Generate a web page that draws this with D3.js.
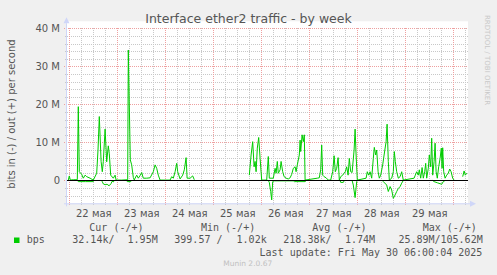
<!DOCTYPE html>
<html>
<head>
<meta charset="utf-8">
<script src="https://cdn.jsdelivr.net/npm/d3@7"></script>
<style>
  body { margin: 0; background: #f0f0f0; }
  svg { display: block; }
</style>
</head>
<body>
<svg id="chart" width="497" height="275"></svg>
<script>
// traffic samples: hours after 22 May 2025 00:00, Mbit/s (null = no data)
const outHours = [-0.5, 0, 0.5, 2, 4, 4.5, 5, 6.2, 7, 7.9, 8.7, 10.4, 12, 13.7, 14.35, 15, 15.9, 16.5, 17, 17.9,
  18.7, 19.5, 20, 20.7, 22, 22.9, 23.4, 26.2, 29.2, 29.5, 30.5, 31.2, 32, 32.5, 32.9, 33.7, 34.5, 35.4, 36.2, 37,
  38.7, 40.4, 42, 42.9, 43.7, 44.5, 45.4, 50.4, 51.2, 52, 52.9, 53.7, 54.2, 55.4, 56.7, 57.5, 58.4, 58.9, 60.4, 61.7,
  62.5, 63, 90, 90.9, 91.7, 92.4, 92.9, 93.4, 94, 94.7, 95.4, 96.2, 98.7, 99.5, 100, 102, 102.9, 103.4, 104, 104.5,
  105.4, 105.9, 106.7, 107.4, 108.4, 109.5, 110.4, 111.2, 112, 112.9, 113.4, 114, 115, 115.4, 115.7, 116.4, 117, 117.5,
  117.9, 124, 125, 125.7, 126.2, 126.7, 127.4, 128.4, 129.5, 130.7, 131.7, 132.4, 133, 133.7, 134.4, 135, 135.7, 136.7,
  137.4, 138, 138.7, 139.4, 140, 140.7, 141.4, 142.4, 142.9, 143.4, 144, 148.4, 149, 149.7, 150.4, 151.2, 152, 152.5,
  153.2, 153.7, 154.4, 155, 155.7, 156.7, 157.4, 158.4, 158.9, 159.5, 160, 161.2, 162, 162.5, 163, 163.7, 164.5, 165.4,
  166.2, 167, 172.4, 173, 173.7, 174.5, 175, 175.7, 176.4, 177, 177.7, 178.2, 178.7, 179.5, 180, 180.7, 181.2, 181.7,
  182.4, 182.9, 183.4, 184, 184.7, 185.4, 186, 186.4, 186.7, 187.2, 187.9, 188.7, 189.5, 190.2, 190.9, 191.7, 192.4,
  193, 196.7, 197.4, 198, 198.7];
const outMbps = [0.1, 1.2, 0.1, 0.2, 0.2, 19.4, 2.3, 1.6, 0.6, 1.4, 1.0, 0.6, 0.1, 1.9, 8.0, 16.8, 5.0, 2.3, 5.0, 13.5,
  4.9, 9.1, 7.0, 1.4, 0.6, 1.4, 0.1, 0.1, 0.2, 34.3, 5.4, 4.1, 0.8, 0.1, 0.6, 1.4, 0.6, 1.3, 2.1, 0.6,
  0.6, 0.7, 2.3, 4.1, 3.2, 1.4, 0.1, 0.1, 1.0, 0.6, 2.3, 4.5, 2.3, 0.4, 1.4, 2.8, 6.0, 0.6, 0.6, 1.2,
  0.2, null, 1.4, 6.7, 10.2, 3.6, 5.0, 2.3, 8.5, 11.3, 5.8, 0.1, 0.1, 6.3, 0.6, 0.6, 3.2, 1.9, 5.0, 1.9,
  2.8, 5.0, 2.3, 1.0, 0.6, 0.4, 0.7, 1.6, 3.2, 3.6, 2.3, 4.1, 6.7, 10.6, 7.6, 12.0, 10.2, 12.0,
  0.1, 0.6, 0.7, 2.8, 9.3, 1.4, 1.0, 0.7, 0.1, 0.1, 2.3, 6.5, 2.3, 3.2, 6.0, 0.1, 1.0, 1.4,
  1.9, 2.3, 3.6, 1.4, 5.8, 2.3, 2.1, 8.0, 13.5, 6.7, 0.1, 0.6, 2.3, 1.4, 2.3, 0.6, 5.8, 8.7,
  6.7, 8.0, 2.3, 0.6, 1.4, 4.1, 6.7, 10.2, 14.8, 5.0, 0.1, 0.6, 2.3, 7.6, 5.0, 2.3, 0.6, 1.0,
  2.3, 0.1, 0.6, 1.4, 2.3, 1.4, 2.8, 0.6, 3.4, 0.6, 2.3, 4.5, 0.6, 3.2, 6.7, 3.6, 11.1, 1.4,
  5.0, 9.8, 2.3, 0.6, 3.6, 5.8, 8.5, 3.2, 8.6, 2.3, 0.6, 1.4, 1.9, 3.0, 2.3, 0.6, 0.1,
  null, 1.0, 2.5, 1.4, 1.9];
const inHours = [-0.5, 4, 4.5, 8, 12, 12.5, 16, 16.4, 17, 17.9, 18.9, 19.9, 20.9, 21.4, 22, 22.5, 28.7, 29, 30.7, 31.2,
  62.5, 63, 90, 99.5, 100, 100.7, 101.2, 101.7, 102.4, 112, 112.5, 117.9, 118.5, 135.4, 135.7, 137, 137.5, 141.4, 142,
  142.9, 143.7, 144.2, 156.7, 157, 158.7, 159.5, 160.4, 161.2, 162, 162.9, 163.7, 164.5, 165.4, 166.2, 167, 181.7,
  182.4, 184, 186.2, 187, 187.9, 192.4, 193, 196.7, 198.7];
const inMbps = [0, 0, 0.3, 0.3, 0.3, 0, 0, 0.2, 0.9, 1.1, 1.0, 1.4, 0.8, 0.2, 0.4, 0, 0, 0.3, 0.3, 0,
  0, null, 0, 0, 0.5, 2.9, 5.1, 0.3, 0.1, 0.1, 0.3, 0.3, 0, 0, 0.5, 0.5, 0, 0, 1.2,
  4.5, 0.3, 0, 0, 0.3, 1.2, 2.9, 1.6, 2.5, 4.7, 3.8, 2.9, 2.1, 1.6, 0.7, 0, 0,
  0.3, 0.6, 1.0, 0.3, 0, 0, null, 0, 0];

const dayLabels = ['22 мая', '23 мая', '24 мая', '25 мая', '26 мая', '27 мая', '28 мая', '29 мая'];
const yMajor = [0, 10, 20, 30, 40];
const legendHeads = ['Cur (-/+)', 'Min (-/+)', 'Avg (-/+)', 'Max (-/+)'];
const legendValues = ['32.14k/', '1.95M', '399.57 /', '1.02k', '218.38k/', '1.74M', '25.89M/105.62M'];

const base = Date.UTC(2025, 4, 22);
const hour = h => new Date(base + h * 3600e3);

const svg = d3.select('#chart');
const plotLeft = 67, plotRight = 468, plotTop = 28.3, plotBottom = 203.3;
const fontColor = '#555';

const x = d3.scaleUtc().domain([hour(-1.15), hour(199.35)]).range([plotLeft, plotRight]);
const y = d3.scaleLinear().domain([-6, 40]).range([plotBottom, plotTop]);

// canvas
svg.append('rect').attr('x', plotLeft).attr('y', plotTop - 7)
  .attr('width', plotRight - plotLeft).attr('height', plotBottom - plotTop + 7)
  .attr('fill', '#fff');

// grid
const minorY = d3.range(-4, 41, 2).filter(v => v % 10 !== 0);
const dayStarts = d3.utcDay.range(x.domain()[0], x.domain()[1]);
const minorX = d3.utcHour.every(6).range(x.domain()[0], x.domain()[1]).filter(d => d.getUTCHours() !== 0);

const grid = svg.append('g').attr('shape-rendering', 'crispEdges');
grid.selectAll('line.my').data(minorY).enter().append('line')
  .attr('x1', plotLeft - 2).attr('x2', plotRight)
  .attr('y1', d => Math.round(y(d)) + 0.5).attr('y2', d => Math.round(y(d)) + 0.5)
  .attr('stroke', '#c8c8c8').attr('stroke-dasharray', '1,1');
grid.selectAll('line.mx').data(minorX).enter().append('line')
  .attr('x1', d => Math.round(x(d)) + 0.5).attr('x2', d => Math.round(x(d)) + 0.5)
  .attr('y1', plotTop).attr('y2', plotBottom + 2)
  .attr('stroke', '#c8c8c8').attr('stroke-dasharray', '1,1');
grid.selectAll('line.My').data(yMajor).enter().append('line')
  .attr('x1', plotLeft - 3).attr('x2', plotRight)
  .attr('y1', d => Math.round(y(d)) + 0.5).attr('y2', d => Math.round(y(d)) + 0.5)
  .attr('stroke', '#eea0a0').attr('stroke-dasharray', '1,1');
grid.selectAll('line.Mx').data(dayStarts).enter().append('line')
  .attr('x1', d => Math.round(x(d)) + 0.5).attr('x2', d => Math.round(x(d)) + 0.5)
  .attr('y1', plotTop).attr('y2', plotBottom + 3)
  .attr('stroke', '#eea0a0').attr('stroke-dasharray', '1,1');

// series
const outData = outHours.map((h, i) => ({t: hour(h), v: outMbps[i]}));
const inData = inHours.map((h, i) => ({t: hour(h), v: inMbps[i] === null ? null : -inMbps[i]}));
const line = d3.line().defined(d => d.v !== null).x(d => x(d.t)).y(d => y(d.v));
[inData, outData].forEach(data => {
  svg.append('path').datum(data).attr('d', line)
    .attr('fill', 'none').attr('stroke', '#00cc00').attr('stroke-width', 1);
});

// zero line
svg.append('line').attr('x1', plotLeft).attr('x2', plotRight)
  .attr('y1', Math.round(y(0)) + 0.5).attr('y2', Math.round(y(0)) + 0.5)
  .attr('stroke', '#000').attr('shape-rendering', 'crispEdges');

// axes lines and arrows
const axisColor = '#cfd6f8';
svg.append('line').attr('x1', plotLeft - 0.5).attr('x2', plotLeft - 0.5)
  .attr('y1', plotBottom + 3).attr('y2', plotTop - 5)
  .attr('stroke', axisColor);
svg.append('line').attr('x1', plotLeft - 3).attr('x2', plotRight + 3)
  .attr('y1', plotBottom + 0.5).attr('y2', plotBottom + 0.5)
  .attr('stroke', axisColor);
svg.append('path')
  .attr('d', `M${plotLeft - 3.5},${plotTop - 5} L${plotLeft + 2.5},${plotTop - 5} L${plotLeft - 0.5},${plotTop - 11} Z`)
  .attr('fill', axisColor);
svg.append('path')
  .attr('d', `M${plotRight + 2},${plotBottom - 2.5} L${plotRight + 2},${plotBottom + 3.5} L${plotRight + 8},${plotBottom + 0.5} Z`)
  .attr('fill', axisColor);

// y axis labels
const yAxis = svg.append('g').attr('transform', `translate(${plotLeft - 7},0)`)
  .call(d3.axisLeft(y).tickValues(yMajor).tickSize(0).tickPadding(0)
    .tickFormat(d => d === 0 ? '0' : d + ' M'));
yAxis.select('.domain').remove();
yAxis.selectAll('text').attr('font-family', 'DejaVu Sans').attr('font-size', 10).attr('fill', fontColor);

// x axis labels at noon
const xAxis = svg.append('g').attr('transform', `translate(0,${plotBottom})`)
  .call(d3.axisBottom(x).tickValues(dayLabels.map((_, i) => hour(12 + 24 * i))).tickSize(0).tickPadding(0)
    .tickFormat((d, i) => dayLabels[i]));
xAxis.select('.domain').remove();
xAxis.selectAll('text').attr('font-family', 'DejaVu Sans').attr('font-size', 10).attr('fill', fontColor)
  .attr('dy', null).attr('y', 13.5);

// title
svg.append('text').attr('x', 248.5).attr('y', 22.5).attr('text-anchor', 'middle')
  .attr('font-family', 'DejaVu Sans').attr('font-size', 12.5).attr('fill', fontColor)
  .text('Interface ether2 traffic - by week');

// y title
svg.append('text').attr('transform', 'translate(15,114) rotate(-90)').attr('text-anchor', 'middle')
  .attr('font-family', 'DejaVu Sans').attr('font-size', 10).attr('fill', fontColor)
  .text('bits in (-) / out (+) per second');

// watermark
svg.append('text').attr('transform', 'translate(485,60) rotate(90)').attr('text-anchor', 'middle')
  .attr('font-family', 'DejaVu Sans').attr('font-size', 7).attr('fill', '#c8c8c8')
  .text('RRDTOOL / TOBI OETIKER');

// legend
const mono = 'DejaVu Sans Mono';
const headX = [89.3, 201, 312.3, 422.7];
svg.selectAll('text.head').data(legendHeads).enter().append('text')
  .attr('x', (d, i) => headX[i]).attr('y', 231)
  .attr('font-family', mono).attr('font-size', 10).attr('fill', fontColor).text(d => d);

svg.append('rect').attr('x', 14).attr('y', 237.5).attr('width', 5.5).attr('height', 5.5).attr('fill', '#00cc00');
svg.append('text').attr('x', 26.7).attr('y', 243).attr('font-family', mono).attr('font-size', 10)
  .attr('fill', fontColor).text('bps');

const valuePos = [[72.3, 'start'], [157.7, 'end'], [174.3, 'start'], [266.7, 'end'], [283.3, 'start'], [375, 'end'], [482.7, 'end']];
svg.selectAll('text.val').data(legendValues).enter().append('text')
  .attr('x', (d, i) => valuePos[i][0]).attr('y', 243).attr('text-anchor', (d, i) => valuePos[i][1])
  .attr('font-family', mono).attr('font-size', 10).attr('fill', fontColor).text(d => d);

svg.append('text').attr('x', 482.3).attr('y', 255.5).attr('text-anchor', 'end')
  .attr('font-family', mono).attr('font-size', 10).attr('fill', fontColor)
  .text('Last update: Fri May 30 06:00:04 2025');

svg.append('text').attr('x', 247.7).attr('y', 266).attr('text-anchor', 'middle')
  .attr('font-family', 'DejaVu Sans').attr('font-size', 7.5).attr('fill', '#c0c0c0')
  .text('Munin 2.0.67');
</script>
</body>
</html>
